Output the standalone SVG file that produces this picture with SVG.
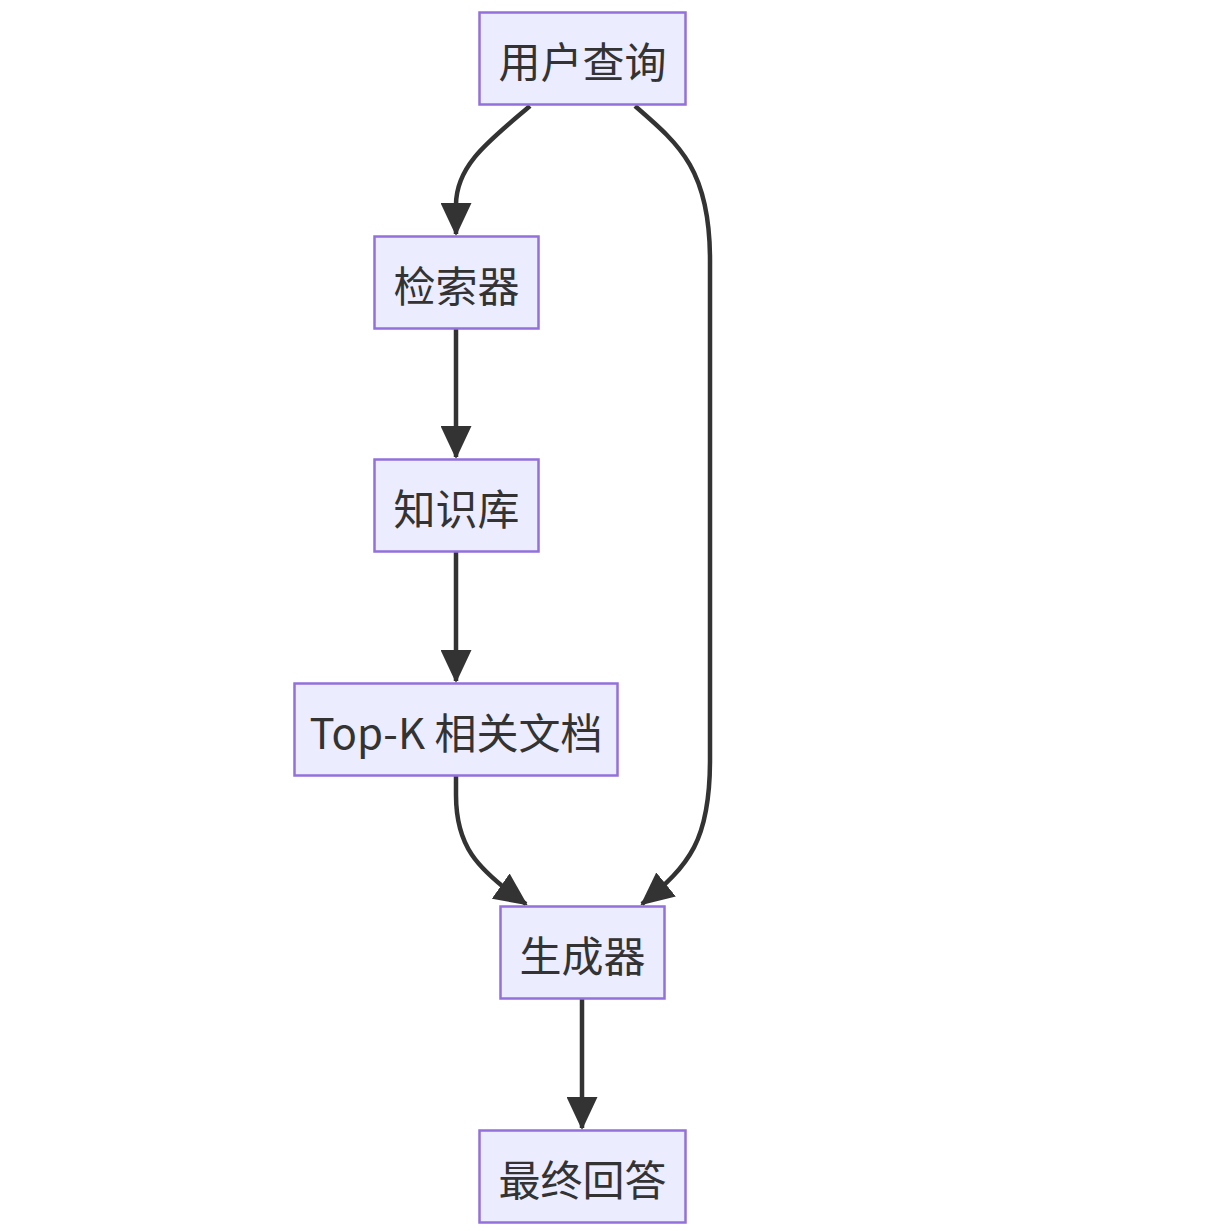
<svg xmlns="http://www.w3.org/2000/svg" width="1231" height="1231" viewBox="0 0 1231 1231">
<style>
.node rect{fill:#ECECFF;stroke:#9370DB;stroke-width:2.5}
.node text{font-family:"Noto Sans CJK SC","Noto Sans",sans-serif;font-size:42px;fill:#333333;text-anchor:middle;dominant-baseline:central}
.edge{fill:none;stroke:#333333;stroke-width:4.5}
</style>
<defs>
<marker id="arrow" markerUnits="userSpaceOnUse" viewBox="0 0 33 31" refX="31" refY="15.5" markerWidth="33" markerHeight="31" orient="auto">
<path d="M0,0 L33,15.5 L0,31 z" fill="#333333"/>
</marker>
</defs>
<g id="edges">
<path class="edge" d="M530,106 C490,140 456,165 456,205 L456,234" marker-end="url(#arrow)"/>
<path class="edge" d="M635,106 C680,145 710,170 710,260 L710,760 C710,840 690,865 642,904" marker-end="url(#arrow)"/>
<path class="edge" d="M456,329 L456,457" marker-end="url(#arrow)"/>
<path class="edge" d="M456,552 L456,681" marker-end="url(#arrow)"/>
<path class="edge" d="M456,776 L456,795 C456,845 475,868 526,904" marker-end="url(#arrow)"/>
<path class="edge" d="M582,999 L582,1128" marker-end="url(#arrow)"/>
</g>
<g id="n1" class="node"><rect x="479.5" y="12.5" width="206" height="92"/><text x="582.5" y="59">用户查询</text></g>
<g id="n2" class="node"><rect x="374.5" y="236.5" width="164" height="92"/><text x="456.5" y="283">检索器</text></g>
<g id="n3" class="node"><rect x="374.5" y="459.5" width="164" height="92"/><text x="456.5" y="506">知识库</text></g>
<g id="n4" class="node"><rect x="294.5" y="683.5" width="323" height="92"/><text x="456" y="730">Top-K 相关文档</text></g>
<g id="n5" class="node"><rect x="500.5" y="906.5" width="164" height="92"/><text x="582.5" y="953">生成器</text></g>
<g id="n6" class="node"><rect x="479.5" y="1130.5" width="206" height="92"/><text x="582.5" y="1177">最终回答</text></g>
</svg>
